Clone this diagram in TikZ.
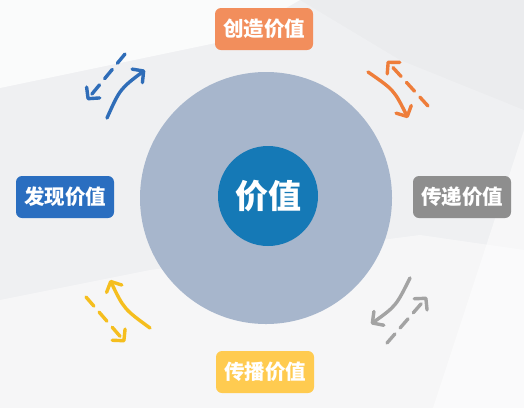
\documentclass[tikz,border=0pt]{standalone}
\usepackage{fontspec}
\newfontfamily\cjk{Noto Sans CJK SC}
\usetikzlibrary{arrows.meta}
\definecolor{bgc}{HTML}{EFF0F2}
\definecolor{ringc}{HTML}{A7B6CC}
\definecolor{corec}{HTML}{1579B6}
\definecolor{blueL}{HTML}{2A6EC0}
\definecolor{blueA}{HTML}{2F6DB8}
\definecolor{orangeL}{HTML}{F28E5C}
\definecolor{orangeA}{HTML}{EE7D3A}
\definecolor{yellowL}{HTML}{FFCB50}
\definecolor{yellowA}{HTML}{F5BE1E}
\definecolor{grayL}{HTML}{8E8E8E}
\definecolor{grayA}{HTML}{A3A3A3}
\tikzset{
  lbl/.style={rounded corners=6pt, minimum width=98pt, minimum height=42pt,
    inner sep=0pt, text=white, font=\cjk\bfseries\fontsize{20.5}{20.5}\selectfont},
  flow/.style={line width=3.4pt, line cap=round,
    -{Straight Barb[length=8pt,width=17pt,line cap=round,line join=round]}},
  backflow/.style={flow, dash pattern=on 12pt off 8pt}
}
\begin{document}
\begin{tikzpicture}[x=1pt,y=-1pt]
\useasboundingbox (0,0) rectangle (524,408);
\fill[bgc] (0,0) rectangle (524,408);
% subtle background facets
\fill[white,opacity=0.75] (0,0) -- (300,0) -- (230,40) -- (0,88) -- cycle;
\fill[white,opacity=0.45] (0,300) -- (150,270) -- (420,235) -- (524,250) -- (524,408) -- (0,408) -- cycle;
\fill[white,opacity=0.5] (433,408) -- (524,130) -- (524,408) -- cycle;
\fill[black,opacity=0.015] (300,0) -- (524,0) -- (524,110) -- (400,60) -- cycle;

% circles
\node[circle, fill=ringc, minimum size=252pt, inner sep=0pt] (ring) at (266,198) {};
\node[circle, fill=corec, minimum size=100pt, inner sep=0pt, text=white,
  font=\cjk\bfseries\fontsize{33}{33}\selectfont] (core) at (268,196) {价值};

% labels
\node[lbl, fill=orangeL] (create) at (264,29) {创造价值};
\node[lbl, fill=blueL] (find) at (65,197) {发现价值};
\node[lbl, fill=grayL] (deliver) at (462,197) {传递价值};
\node[lbl, fill=yellowL] (spread) at (265,372) {传播价值};

% arrow end points
\coordinate (b1) at (107,118); \coordinate (b2) at (145,70);
\coordinate (b3) at (125,54);  \coordinate (b4) at (87,100);
\coordinate (o1) at (368,72);  \coordinate (o2) at (408,118);
\coordinate (o3) at (428,106); \coordinate (o4) at (387,61);
\coordinate (y1) at (150,328); \coordinate (y2) at (110,280);
\coordinate (y3) at (86,297);  \coordinate (y4) at (125,342);
\coordinate (g1) at (410,278); \coordinate (g2) at (371,324);
\coordinate (g3) at (387,343); \coordinate (g4) at (427,297);

% arrows
\draw[flow, blueA] (b1) .. controls (120,89) .. (b2);
\draw[backflow, blueA] (b3) -- (b4);
\draw[flow, orangeA] (o1) .. controls (394,90) .. (o2);
\draw[backflow, orangeA] (o3) -- (o4);
\draw[flow, yellowA] (y1) .. controls (124,309) .. (y2);
\draw[backflow, yellowA] (y3) -- (y4);
\draw[flow, grayA] (g1) .. controls (396,306) .. (g2);
\draw[backflow, grayA] (g3) -- (g4);
\end{tikzpicture}
\end{document}
